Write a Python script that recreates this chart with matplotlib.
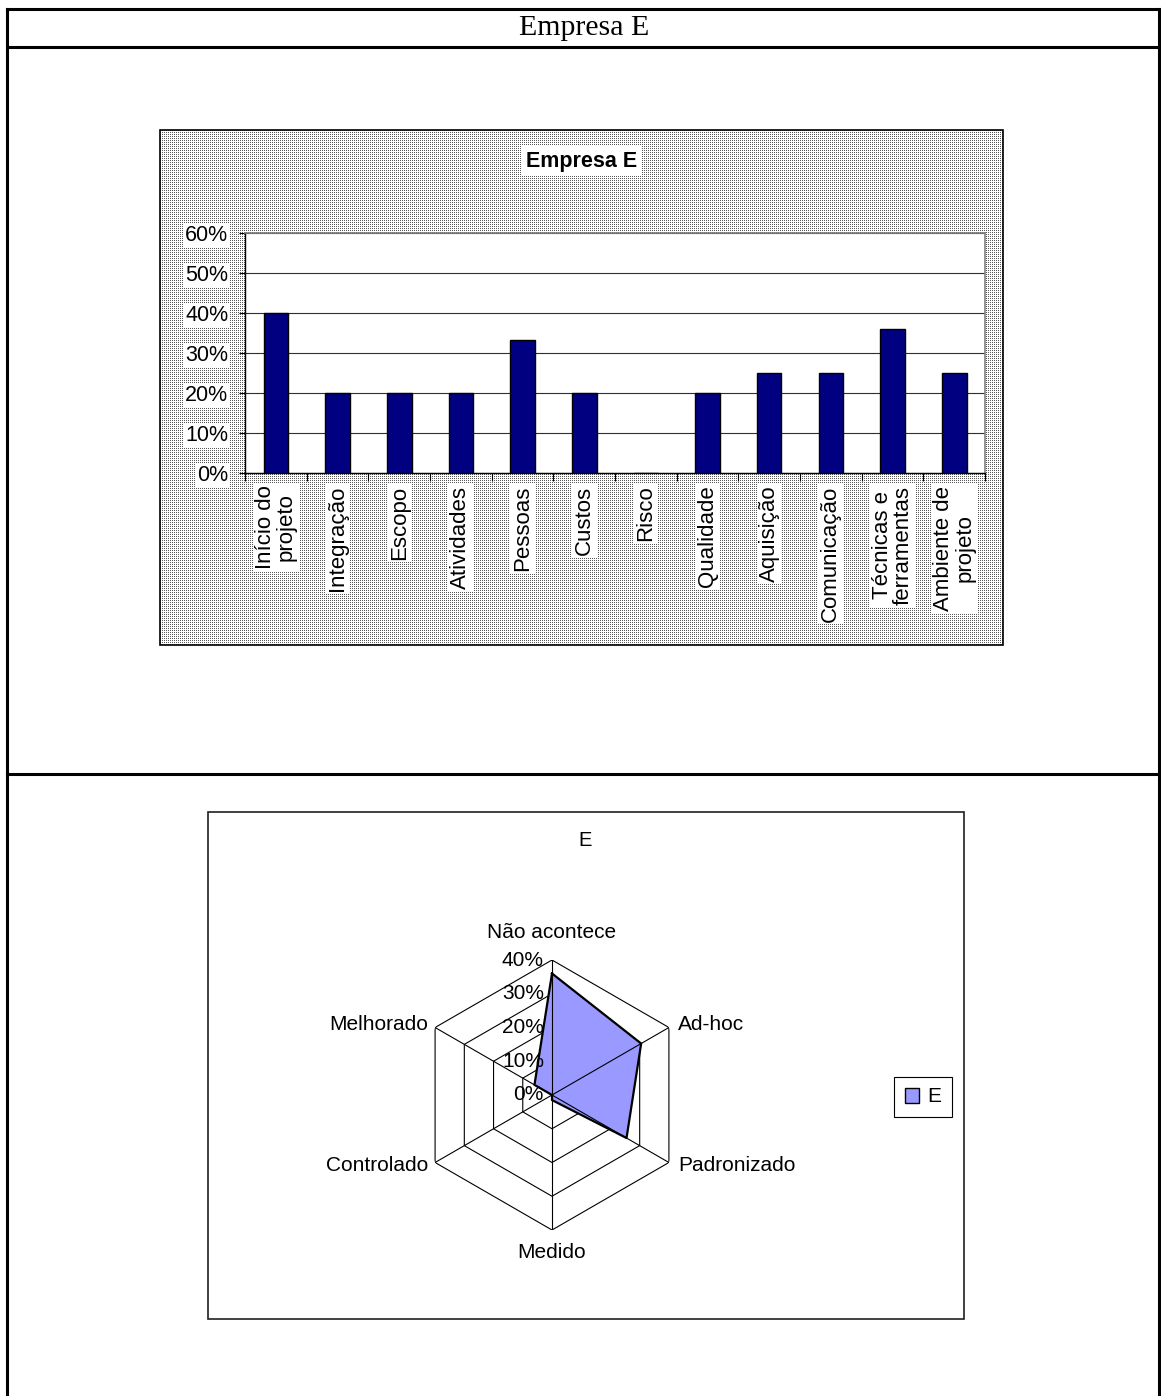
import numpy as np
import matplotlib
matplotlib.use("Agg")
import matplotlib.pyplot as plt
from matplotlib.patches import Rectangle, Patch
from matplotlib.lines import Line2D

# ---------------- data ----------------
page_title = "Empresa E"

bar_title = "Empresa E"
bar_categories = ["Início do\nprojeto", "Integração", "Escopo", "Atividades",
                  "Pessoas", "Custos", "Risco", "Qualidade", "Aquisição",
                  "Comunicação", "Técnicas e\nferramentas", "Ambiente de\nprojeto"]
bar_values = [40, 20, 20, 20, 33.3, 20, 0, 20, 25, 25, 36, 25]
bar_yticks = [0, 10, 20, 30, 40, 50, 60]

radar_title = "E"
radar_categories = ["Não acontece", "Ad-hoc", "Padronizado", "Medido",
                    "Controlado", "Melhorado"]
radar_values = [36, 30.5, 25.5, 1.5, 0, 6]
radar_rticks = [0, 10, 20, 30, 40]
series_name = "E"

# ---------------- layout helpers ----------------
W, H = 1161, 1396
plt.rcParams["font.family"] = ["Liberation Sans", "DejaVu Sans"]

fig = plt.figure(figsize=(W / 100, H / 100), dpi=100)
fig.patch.set_facecolor("white")


def fx(x):
    return x / W


def fy(y):
    return 1 - y / H


# ---------------- page table ----------------
tlw = 2.2
for (x0, y0, x1, y1) in [(7, 9, 1159, 9), (7, 47, 1159, 47), (7, 774, 1159, 774),
                         (7, 9, 7, H), (1159, 9, 1159, H)]:
    fig.add_artist(Line2D([fx(x0), fx(x1)], [fy(y0), fy(y1)],
                          transform=fig.transFigure, color="black", lw=tlw))
fig.text(fx(584), fy(28), page_title, ha="center", va="center",
         family=["Liberation Serif", "DejaVu Serif"], fontsize=21.5)

# ---------------- bar chart frame (stippled) ----------------
bx0, by0, bx1, by1 = 160, 130, 1003, 645
ph, pw = by1 - by0, bx1 - bx0
pat = np.ones((ph, pw, 3))
yy, xx = np.mgrid[0:ph, 0:pw]
dots = (yy % 2 == 0) & (xx % 2 == 0)
pat[dots] = 0.35
fig.figimage(pat, xo=bx0, yo=H - by1, origin="upper", zorder=-1)
fig.add_artist(Rectangle((fx(bx0), fy(by1)), (bx1 - bx0) / W, (by1 - by0) / H,
                         transform=fig.transFigure, fill=False,
                         edgecolor="black", lw=1.2, zorder=5))

# ---------------- bar chart ----------------
ax = fig.add_axes([fx(245), fy(473), (985 - 245) / W, (473 - 233) / H])
ax.set_facecolor("white")
x = np.arange(len(bar_categories))
ax.bar(x, bar_values, width=0.4, color="#000080", edgecolor="black", lw=1.0, zorder=3)
ax.set_xlim(-0.5, len(bar_categories) - 0.5)
ax.set_ylim(bar_yticks[0], bar_yticks[-1])
ax.set_yticks(bar_yticks)
ax.set_yticklabels([f"{v}%" for v in bar_yticks], fontsize=15.5)
ax.yaxis.grid(True, color="#303030", lw=0.8)
ax.set_axisbelow(True)
ax.set_xticks(x)
ax.set_xticklabels(bar_categories, rotation=90, ha="center", va="top",
                   multialignment="center", fontsize=16, linespacing=1.0)
ax.set_xticks(np.arange(-0.5, len(bar_categories), 1), minor=True)
ax.tick_params(axis="x", which="major", length=0, pad=9)
ax.tick_params(axis="x", which="minor", length=6, direction="out", width=0.8)
ax.tick_params(axis="y", length=4, direction="out", pad=8, width=0.8)
for s in ["top", "right"]:
    ax.spines[s].set_color("#808080")
    ax.spines[s].set_linewidth(1.2)
for s in ["left", "bottom"]:
    ax.spines[s].set_color("black")
    ax.spines[s].set_linewidth(1.0)
for lab in ax.get_xticklabels() + ax.get_yticklabels():
    lab.set_bbox(dict(facecolor="white", edgecolor="none", pad=1.5))
fig.text(fx(582), fy(161), bar_title, ha="center", va="center",
         fontsize=15.5, fontweight="bold",
         bbox=dict(facecolor="white", edgecolor="none", pad=3))

# ---------------- radar frame ----------------
fig.add_artist(Rectangle((fx(208), fy(1319)), (964 - 208) / W, (1319 - 812) / H,
                         transform=fig.transFigure, fill=False,
                         edgecolor="#202020", lw=1.2))
fig.text(fx(585), fy(840), radar_title, ha="center", va="center", fontsize=14.5)

# ---------------- radar chart ----------------
cx, cy, R = 552, 1095, 135
rax = fig.add_axes([fx(cx - R), fy(cy + R), 2 * R / W, 2 * R / H], projection="polar")
rax.set_theta_zero_location("N")
rax.set_theta_direction(-1)
rax.set_ylim(radar_rticks[0], radar_rticks[-1])
rax.grid(False)
rax.spines["polar"].set_visible(False)
rax.set_xticks([])
rax.set_yticks([])
rax.patch.set_alpha(0)

n = len(radar_categories)
angles = np.arange(n) * 2 * np.pi / n
closed_a = np.append(angles, angles[0])
for r in radar_rticks[1:]:
    rax.plot(closed_a, [r] * (n + 1), color="black", lw=0.8, zorder=1)
vals = np.append(radar_values, radar_values[0])
rax.fill(closed_a, vals, facecolor="#9999FF", edgecolor="none", zorder=2,
         label=series_name)
for a in angles:
    rax.plot([a, a], [0, radar_rticks[-1]], color="black", lw=0.8, zorder=3)
rax.plot(closed_a, vals, color="black", lw=1.6, zorder=4)

for r in radar_rticks:
    rax.annotate(f"{r}%", xy=(0, r), xytext=(-8, 0), textcoords="offset pixels",
                 ha="right", va="center", fontsize=15, zorder=5,
                 annotation_clip=False)

label_style = [((0, 27), "center"), ((9, 3), "left"), ((9, -3), "left"),
               ((0, -22), "center"), ((-7, -3), "right"), ((-7, 3), "right")]
for a, name, (off, ha) in zip(angles, radar_categories, label_style):
    rax.annotate(name, xy=(a, radar_rticks[-1]), xytext=off,
                 textcoords="offset pixels", ha=ha, va="center", fontsize=15,
                 annotation_clip=False)

leg = fig.legend(handles=[Patch(facecolor="#9999FF", edgecolor="black", label=series_name)],
                 loc="center", bbox_to_anchor=(fx(923), fy(1097)), frameon=True,
                 fancybox=False, edgecolor="black", framealpha=1,
                 handlelength=0.7, handleheight=0.7, handletextpad=0.4,
                 borderpad=0.5, fontsize=15)
leg.get_frame().set_linewidth(0.8)

fig.savefig("out.png", dpi=100)
